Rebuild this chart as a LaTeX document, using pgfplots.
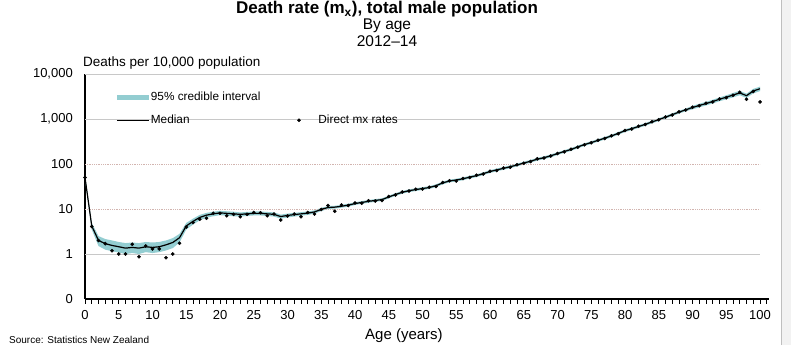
\documentclass[border=0pt]{standalone}
\usepackage{fontspec}
\setmainfont{Liberation Sans}
\usepackage{pgfplots}
\pgfplotsset{compat=1.18}
\usepgfplotslibrary{fillbetween}
\usepackage{pgfplotstable}
\definecolor{bandc}{RGB}{147,205,209}
\definecolor{gridr}{RGB}{210,180,175}
\definecolor{gridg}{RGB}{200,200,200}
\pgfplotstableread{
age lo med hi dir
0 44 50 56 50
1 3.5 4.2 4.9 4.1
2 1.5 2.0 2.5 2.0
3 1.25 1.7 2.15 1.7
4 1.15 1.55 2.0 1.18
5 1.08 1.45 1.85 1.0
6 1.0 1.35 1.75 1.0
7 1.05 1.4 1.8 1.64
8 1.0 1.35 1.75 0.87
9 1.1 1.45 1.85 1.5
10 1.05 1.4 1.8 1.3
11 1.1 1.45 1.85 1.3
12 1.2 1.6 2.0 0.83
13 1.35 1.8 2.25 1.0
14 1.8 2.3 2.8 1.73
15 3.5 4.2 4.9 4.0
16 4.5 5.3 6.1 5.0
17 5.6 6.5 7.4 5.9
18 6.4 7.3 8.2 6.2
19 6.9 7.8 8.7 8.0
20 7.3 8.2 9.1 8.0
21 7.1 8.0 8.9 7.1
22 6.9 7.8 8.7 7.6
23 6.8 7.6 8.4 6.7
24 7.0 7.8 8.6 7.6
25 7.2 8.0 8.8 8.4
26 7.2 8.0 8.8 8.3
27 7.0 7.8 8.6 7.1
28 6.8 7.6 8.4 7.7
29 6.1 6.8 7.5 5.7
30 6.5 7.2 7.9 7.0
31 6.8 7.5 8.2 7.7
32 7.1 7.8 8.5 6.7
33 7.4 8.1 8.8 8.4
34 7.9 8.6 9.3 7.7
35 9.0 9.8 10.6 9.8
36 10.0 10.8 11.6 12.0
37 10.2 11.0 11.8 8.9
38 10.7 11.5 12.3 12.3
39 11.3 12.2 13.1 12.0
40 12.3 13.2 14.1 13.6
41 13.0 14.0 15.0 13.5
42 13.8 14.8 15.8 15.2
43 14.4 15.5 16.6 15.0
44 15.1 16.2 17.3 15.4
45 17.2 18.5 19.8 18.9
46 19.5 21.0 22.5 20.6
47 21.9 23.5 25.1 23.8
48 23.7 25.5 27.3 25.0
49 25.1 27.0 28.9 27.6
50 26.5 28.5 30.5 27.8
51 27.9 30.0 32.1 30.5
52 30.7 33.0 35.3 31.8
53 35.3 38.0 40.7 38.8
54 39.1 42.0 44.9 42.5
55 40.9 44.0 47.1 42.0
56 43.7 47.0 50.3 47.5
57 47.4 51.0 54.6 50.0
58 51.2 55.0 58.9 56.0
59 56.7 61.0 65.3 60.0
60 63.2 68.0 72.8 69.0
61 68.8 74.0 79.2 72.0
62 74.4 80.0 85.6 81.0
63 80.9 87.0 93.1 85.0
64 88.4 95.0 101.7 96.0
65 97.7 105 112.4 104
66 107 115 123 113
67 119 128 137 130
68 128 138 148 136
69 141 152 163 150
70 158 170 182 171
71 177 190 203 186
72 195 210 225 212
73 223 240 257 236
74 251 270 289 268
75 279 300 321 296
76 312 335 358 338
77 349 375 401 368
78 391 420 449 423
79 446 480 514 472
80 512 550 589 556
81 567 610 653 600
82 632 680 728 690
83 707 760 813 752
84 800 860 920 872
85 902 970 1038 960
86 1023 1100 1177 1110
87 1163 1250 1338 1230
88 1321 1420 1519 1440
89 1488 1600 1712 1580
90 1640 1800 1960 1830
91 1820 2000 2180 1980
92 2000 2200 2400 2230
93 2220 2450 2680 2400
94 2480 2750 3020 2790
95 2740 3050 3360 2980
96 3020 3400 3780 3380
97 3380 3800 4220 3950
98 2940 3300 3660 2750
99 3720 4200 4680 4100
100 4160 4700 5240 2400
}\mxdata

\begin{document}
\begin{tikzpicture}
\begin{axis}[
  at={(85pt,46pt)}, anchor=south west,
  scale only axis, width=684.45pt, height=225pt,
  xmin=0, xmax=101.4,
  ymode=log, ymin=0.1, ymax=10000,
  axis lines*=left,
  axis line style={black, line width=1.5pt},
  xtick={0,5,...,100},
  xticklabels={0,5,10,15,20,25,30,35,40,45,50,55,60,65,70,75,80,85,90,95,100},
  minor xtick={1,...,101},
  ytick={0.1,1,10,100,1000,10000},
  yticklabels={0,1,10,100,{1,000},{10,000}},
  yminorticks=false,
  tick align=outside,
  major tick length=5pt, minor tick length=5pt,
  tick style={black, line width=1pt},
  ytick style={draw=none},
  xticklabel style={font=\fontsize{13}{15}\selectfont, inner sep=0pt, yshift=-6pt},
  yticklabel style={font=\fontsize{13}{15}\selectfont, inner sep=0pt, xshift=-7pt},
  xlabel={Age (years)},
  xlabel style={font=\fontsize{15}{17}\selectfont, at={(rel axis cs:0.466,0)}, anchor=north, inner sep=0pt, yshift=-29pt},
  ylabel={Deaths per 10,000 population},
  ylabel style={font=\fontsize{13.5}{15}\selectfont, rotate=-90, at={(rel axis cs:0,1)}, anchor=base west, inner sep=0pt, xshift=-2pt, yshift=7pt},
  legend columns=2,
  legend cell align=left,
  legend style={at={(rel axis cs:0.0453,0.9267)}, anchor=north west, draw=none, fill=none,
    inner sep=0pt, font=\fontsize{11.8}{13}\selectfont, row sep=10pt,
    nodes={inner sep=1.5pt},
    /tikz/every even column/.append style={column sep=35pt}},
]
\draw[gridg, line width=0.8pt] (axis cs:0,1) -- (axis cs:100,1);
\draw[gridr, line width=0.8pt, densely dotted] (axis cs:0,10) -- (axis cs:100,10);
\draw[gridr, line width=0.8pt, densely dotted] (axis cs:0,100) -- (axis cs:100,100);
\draw[gridg, line width=0.8pt] (axis cs:0,1000) -- (axis cs:100,1000);
\draw[gridg, line width=0.8pt] (axis cs:0,10000) -- (axis cs:100,10000);

\addplot[name path=hi, draw=none, forget plot] table[x=age, y=hi] {\mxdata};
\addplot[name path=lo, draw=none, forget plot] table[x=age, y=lo] {\mxdata};
\addplot[fill=bandc, draw=none, area legend,
  legend image code/.code={\fill[bandc] (0pt,-2.5pt) rectangle (32pt,2.5pt);}]
  fill between[of=hi and lo];
\addlegendentry{95\% credible interval}
\addlegendimage{empty legend}
\addlegendentry{}
\addplot[black, line width=1.2pt,
  legend image code/.code={\draw[black, line width=1.2pt] (0pt,0pt) -- (32pt,0pt);}]
  table[x=age, y=med] {\mxdata};
\addlegendentry{Median}
\addplot[only marks, mark=*, mark size=1.6pt, black,
  legend image code/.code={\path[draw=none] (0pt,0pt) -- (20pt,0pt); \fill[black] (2pt,0pt) circle[radius=1.6pt];}]
  table[x=age, y=dir] {\mxdata};
\addlegendentry{Direct mx rates}
\end{axis}
\node[anchor=base, font=\bfseries\fontsize{17}{19}\selectfont] at (387pt,331pt) {Death rate (m\textsubscript{x}), total male population};
\node[anchor=base, font=\fontsize{15.5}{17}\selectfont] at (387pt,315.7pt) {By age};
\node[anchor=base, font=\fontsize{15.5}{17}\selectfont] at (387pt,298.3pt) {2012--14};
\node[anchor=base west, inner sep=0pt, font=\fontsize{10}{12}\selectfont] at (9pt,2pt) {Source: Statistics New Zealand};
\fill[gray!10] (781pt,0pt) rectangle (791pt,345pt);
\draw[gray!50, line width=1pt] (781.5pt,0pt) -- (781.5pt,345pt);
\pgfresetboundingbox
\useasboundingbox (0pt,0pt) rectangle (791pt,345pt);
\end{tikzpicture}
\end{document}
